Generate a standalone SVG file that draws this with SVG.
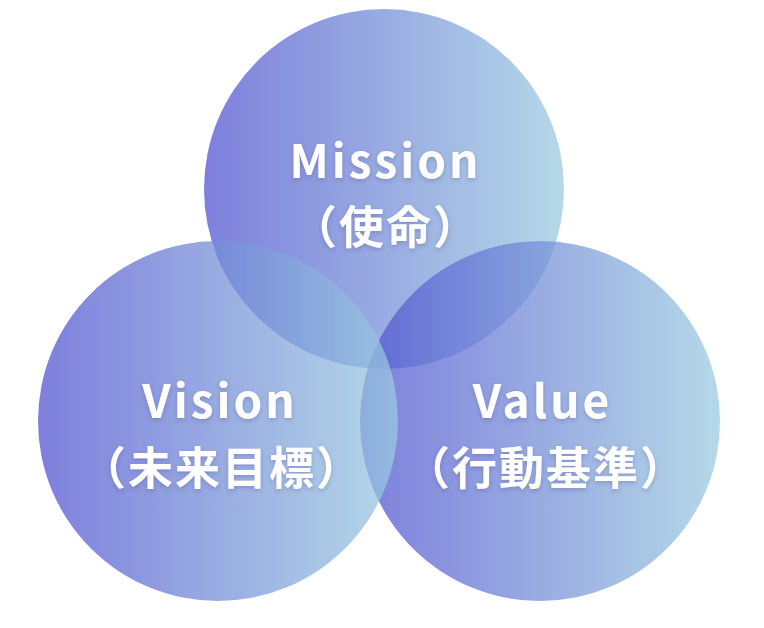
<svg xmlns="http://www.w3.org/2000/svg" width="764" height="628" viewBox="0 0 764 628">
<style>
.c{fill:url(#g);opacity:0.74}
.t{font-family:"Noto Sans CJK JP","Noto Sans",sans-serif;font-weight:700;fill:#ffffff;text-anchor:middle;filter:url(#sh)}
.en{font-size:46px;letter-spacing:3px}
.jp{font-size:45px;letter-spacing:2px}
</style>
<defs>
<linearGradient id="g" x1="0" y1="0" x2="1" y2="0">
<stop offset="0" stop-color="#5052d0"/>
<stop offset="1" stop-color="#9acbe0"/>
</linearGradient>
<filter id="sh" x="-20%" y="-30%" width="140%" height="160%">
<feDropShadow dx="0" dy="2" stdDeviation="2" flood-color="#303070" flood-opacity="0.25"/>
</filter>
</defs>
<rect width="764" height="628" fill="#ffffff"/>
<g id="mission">
<circle class="c" cx="384" cy="189" r="180"/>
</g>
<g id="value">
<circle class="c" cx="540" cy="421" r="180"/>
</g>
<g id="vision">
<circle class="c" cx="218" cy="421" r="180"/>
</g>
<g id="labels">
<text class="t en" x="385.5" y="178">Mission</text>
<text class="t jp" x="386" y="244">（使命）</text>
<text class="t en" x="220" y="418">Vision</text>
<text class="t jp" x="222" y="485">（未来目標）</text>
<text class="t en" x="542.5" y="418">Value</text>
<text class="t jp" x="546" y="485">（行動基準）</text>
</g>
<g id="connectors"/>
</svg>
